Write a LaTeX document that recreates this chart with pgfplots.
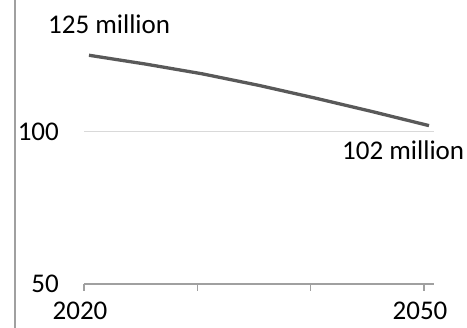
\documentclass[border=0pt]{standalone}
\usepackage{pgfplots}
\pgfplotsset{compat=1.18}
\usepackage{fontspec}
\setmainfont{Carlito}
\definecolor{lineclr}{HTML}{595959}
\definecolor{axisclr}{HTML}{A0A0A0}
\definecolor{gridclr}{HTML}{D9D9D9}
\newcommand{\lblfont}{\fontsize{27bp}{32bp}\selectfont}
\begin{document}
\begin{tikzpicture}
\useasboundingbox (0,0) rectangle (467bp,328bp);
\draw[axisclr, line width=1.7bp] (15bp,0) -- (15bp,328bp);
\begin{axis}[
  at={(84bp,44bp)}, anchor=south west,
  scale only axis,
  width=350bp, height=258.9bp,
  xmin=2019.56, xmax=2050.44,
  ymin=50, ymax=135,
  clip=false,
  axis x line*=bottom,
  axis y line*=left,
  x axis line style={-, draw=axisclr, line width=1.8bp},
  y axis line style={draw=none},
  xtick={2019.56,2029.56,2039.56,2049.56},
  xticklabels={2020,,,2050},
  ytick={50,100},
  yticklabels={50,100},
  tick align=outside,
  major tick length=7bp,
  xtick style={draw=axisclr, line width=1.5bp},
  ytick style={draw=none},
  ymajorgrids,
  grid style={draw=gridclr, line width=1bp},
  /pgf/number format/assume math mode=true,
  ticklabel style={font=\lblfont, text=black},
  xticklabel style={inner sep=0pt, anchor=north, yshift=-10.5bp, xshift=-4bp},
  yticklabel style={inner sep=0pt, anchor=east, xshift=-18bp},
]
\addplot[lineclr, line width=3.3bp] coordinates {
  (2020,125.1) (2025,122.2) (2030,119.0) (2035,115.2) (2040,111.0) (2045,106.6) (2050,102.0)
};
\node[anchor=base west, inner sep=0pt, font=\lblfont, xshift=-41bp, yshift=22bp] at (axis cs:2020,125.1) {125 million};
\node[anchor=base west, inner sep=0pt, font=\lblfont, xshift=-87bp, yshift=-33.4bp] at (axis cs:2050,102) {102 million};
\end{axis}
\end{tikzpicture}
\end{document}
